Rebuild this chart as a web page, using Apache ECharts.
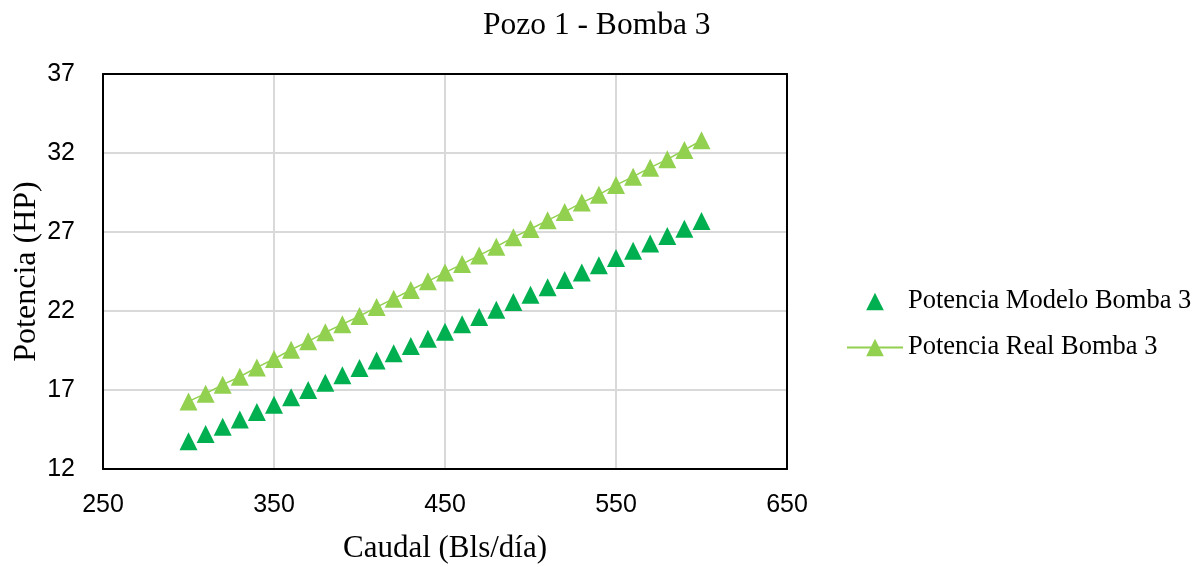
<!DOCTYPE html>
<html>
<head>
<meta charset="utf-8">
<script src="https://cdn.jsdelivr.net/npm/echarts@6/dist/echarts.min.js"></script>
<style>html,body{margin:0;padding:0;background:#fff}#c{width:1200px;height:567px}</style>
</head>
<body>
<div id="c"></div>
<script>
const caudal = [300,310,320,330,340,350,360,370,380,390,400,410,420,430,440,450,460,470,480,490,500,510,520,530,540,550,560,570,580,590,600];
const potenciaModelo = [13.76,14.22,14.68,15.14,15.61,16.07,16.54,17.0,17.46,17.93,18.39,18.86,19.32,19.78,20.25,20.69,21.16,21.62,22.08,22.57,23.03,23.5,23.96,24.43,24.89,25.35,25.82,26.28,26.75,27.21,27.7];
const potenciaReal = [16.28,16.77,17.34,17.84,18.43,18.96,19.55,20.08,20.65,21.16,21.68,22.25,22.78,23.33,23.88,24.43,24.97,25.52,26.07,26.66,27.19,27.74,28.27,28.86,29.36,29.97,30.5,31.07,31.6,32.19,32.8];
const seriesNames = ['Potencia Modelo Bomba 3','Potencia Real Bomba 3'];
const titleText = 'Pozo 1 - Bomba 3';
const xName = 'Caudal (Bls/día)';
const yName = 'Potencia (HP)';

const serif = '"Liberation Serif","Times New Roman",serif';
const sans = '"Liberation Sans",Arial,sans-serif';
const frameLine = {show:true,lineStyle:{color:'#000',width:2}};
const chart = echarts.init(document.getElementById('c'), null, {renderer:'canvas'});
chart.setOption({
  animation:false,
  backgroundColor:'#fff',
  title:{text:titleText,left:478,top:5,textStyle:{fontFamily:serif,fontSize:31.5,fontWeight:'normal',color:'#000'}},
  grid:{left:103,right:413,top:74,bottom:98,show:false,containLabel:false,outerBoundsMode:'none'},
  legend:{orient:'vertical',left:841,top:283,itemWidth:56,itemHeight:22,itemGap:19,
    textStyle:{fontFamily:serif,fontSize:26.5,color:'#000'},
    data:seriesNames},
  xAxis:[{type:'value',min:250,max:650,interval:100,position:'bottom',
    name:xName,nameLocation:'middle',nameGap:64,
    nameTextStyle:{fontFamily:serif,fontSize:31,color:'#000'},
    axisLine:frameLine,axisTick:{show:false},
    axisLabel:{fontFamily:sans,fontSize:25,color:'#000',margin:24},
    splitLine:{show:true,lineStyle:{color:'#d9d9d9',width:2}}},
    {type:'value',min:250,max:650,interval:100,position:'top',
    axisLine:frameLine,axisTick:{show:false},axisLabel:{show:false},splitLine:{show:false}}],
  yAxis:[{type:'value',min:12,max:37,interval:5,position:'left',
    name:yName,nameLocation:'middle',nameGap:60,nameMoveOverlap:false,
    nameTextStyle:{fontFamily:serif,fontSize:32,color:'#000'},
    axisLine:frameLine,axisTick:{show:false},
    axisLabel:{fontFamily:sans,fontSize:25,color:'#000',margin:28},
    splitLine:{show:true,lineStyle:{color:'#d9d9d9',width:2}}},
    {type:'value',min:12,max:37,interval:5,position:'right',
    axisLine:frameLine,axisTick:{show:false},axisLabel:{show:false},splitLine:{show:false}}],
  series:[
    {name:seriesNames[0],type:'line',symbol:'triangle',symbolSize:18,showSymbol:true,
     itemStyle:{color:'#00b050',opacity:1},lineStyle:{color:'#00b050',width:0,opacity:0},
     data:caudal.map((x,i)=>[x,potenciaModelo[i]])},
    {name:seriesNames[1],type:'line',symbol:'triangle',symbolSize:18,showSymbol:true,
     itemStyle:{color:'#92d050',opacity:1},lineStyle:{color:'#92d050',width:1.5},
     data:caudal.map((x,i)=>[x,potenciaReal[i]])}
  ]
});
</script>
</body>
</html>
